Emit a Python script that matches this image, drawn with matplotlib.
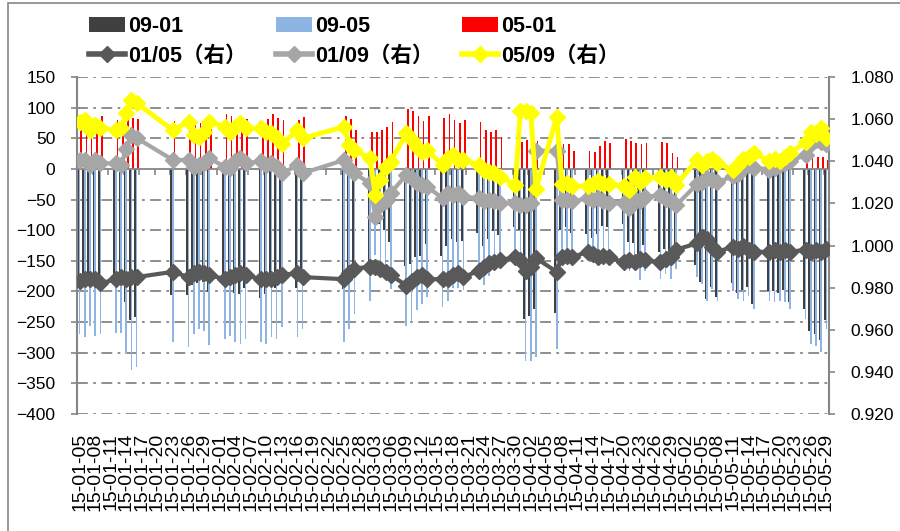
import numpy as np
import matplotlib
matplotlib.use("Agg")
import matplotlib.pyplot as plt
import matplotlib.dates as mdates
from matplotlib import font_manager
from matplotlib.patches import Patch, Rectangle
from matplotlib.lines import Line2D
from matplotlib.ticker import FormatStrFormatter

# trading days shown in the chart
dates = [
    "2015-01-05", "2015-01-06", "2015-01-07", "2015-01-08", "2015-01-09",
    "2015-01-12", "2015-01-13", "2015-01-14", "2015-01-15", "2015-01-16",
    "2015-01-23",
    "2015-01-26", "2015-01-27", "2015-01-28", "2015-01-29", "2015-01-30",
    "2015-02-02", "2015-02-03", "2015-02-04", "2015-02-05", "2015-02-06",
    "2015-02-09", "2015-02-10", "2015-02-11", "2015-02-12", "2015-02-13",
    "2015-02-16", "2015-02-17",
    "2015-02-25", "2015-02-26", "2015-02-27",
    "2015-03-02", "2015-03-03", "2015-03-04", "2015-03-05", "2015-03-06",
    "2015-03-09", "2015-03-10", "2015-03-11", "2015-03-12", "2015-03-13",
    "2015-03-16", "2015-03-17", "2015-03-18", "2015-03-19", "2015-03-20",
    "2015-03-23", "2015-03-24", "2015-03-25", "2015-03-26", "2015-03-27",
    "2015-03-30", "2015-03-31", "2015-04-01", "2015-04-02", "2015-04-03",
    "2015-04-07", "2015-04-08", "2015-04-09", "2015-04-10",
    "2015-04-13", "2015-04-14", "2015-04-15", "2015-04-16", "2015-04-17",
    "2015-04-20", "2015-04-21", "2015-04-22", "2015-04-23", "2015-04-24",
    "2015-04-27", "2015-04-28", "2015-04-29", "2015-04-30",
    "2015-05-04", "2015-05-05", "2015-05-06", "2015-05-07", "2015-05-08",
    "2015-05-11", "2015-05-12", "2015-05-13", "2015-05-14", "2015-05-15",
    "2015-05-18", "2015-05-19", "2015-05-20", "2015-05-21", "2015-05-22",
    "2015-05-25", "2015-05-26", "2015-05-27", "2015-05-28", "2015-05-29",
]

# spreads (left axis)
s0901 = [
    -185, -188, -177, -190, -182,
    -187, -183, -218, -246, -242,
    -205,
    -206, -189, -186, -184, -201,
    -188, -185, -203, -204, -195,
    -210, -204, -185, -194, -178,
    -195, -177,
    -196, -179, -173,
    -155, -80, -90, -100, -120,
    -158, -155, -144, -142, -123,
    -142, -126, -115, -120, -118,
    -104, -126, -115, -102, -108,
    -95, -100, -245, -240, -228,
    -235, -99, -95, -104,
    -106, -113, -106, -93, -94,
    -90, -120, -121, -141, -124,
    -136, -131, -154, -145,
    -157, -185, -213, -192, -209,
    -187, -202, -197, -192, -220,
    -200, -199, -203, -197, -218,
    -229, -264, -269, -279, -246,
]
s0905 = [
    -269, -275, -256, -272, -269,
    -267, -267, -302, -329, -324,
    -283,
    -291, -269, -261, -264, -288,
    -277, -272, -283, -286, -277,
    -283, -286, -275, -277, -258,
    -275, -261,
    -283, -261, -237,
    -215, -140, -154, -169, -196,
    -256, -250, -231, -220, -209,
    -225, -215, -195, -195, -198,
    -180, -190, -175, -165, -160,
    -139, -144, -313, -313, -307,
    -294, -139, -136, -133,
    -136, -141, -144, -139, -136,
    -139, -166, -163, -182, -166,
    -180, -171, -180, -163,
    -177, -188, -215, -196, -215,
    -199, -212, -215, -207, -228,
    -215, -217, -215, -217, -228,
    -245, -286, -289, -299, -261,
]
s0501 = [
    84, 87, 79, 82, 87,
    80, 84, 84, 83, 82,
    78,
    85, 80, 75, 80, 87,
    89, 87, 80, 82, 82,
    73, 82, 90, 83, 80,
    80, 84,
    87, 82, 64,
    60, 60, 64, 69, 76,
    98, 95, 87, 78, 86,
    83, 89, 80, 75, 80,
    76, 64, 60, 63, 52,
    45, 44, 47, 40, 45,
    42, 40, 41, 29,
    30, 28, 38, 46, 42,
    49, 46, 42, 41, 42,
    44, 42, 26, 20,
    20, 3, 2, 4, 6,
    12, 10, 18, 15, 8,
    15, 18, 12, 20, 10,
    16, 22, 20, 20, 15,
]

# price ratios (right axis)
r0105 = [
    0.983, 0.984, 0.984, 0.984, 0.982,
    0.984, 0.985, 0.984, 0.985, 0.985,
    0.9875,
    0.985, 0.987, 0.9875, 0.987, 0.986,
    0.984, 0.985, 0.986, 0.987, 0.986,
    0.984, 0.984, 0.984, 0.985, 0.986,
    0.987, 0.985,
    0.984, 0.987, 0.989,
    0.990, 0.990, 0.989, 0.9875, 0.986,
    0.981, 0.983, 0.985, 0.986, 0.984,
    0.984, 0.984, 0.986, 0.987, 0.985,
    0.988, 0.990, 0.9915, 0.992, 0.993,
    0.9945, 0.993, 0.988, 0.990, 0.994,
    0.9875, 0.9945, 0.995, 0.9945,
    0.997, 0.996, 0.9945, 0.995, 0.9945,
    0.992, 0.993, 0.992, 0.9935, 0.993,
    0.992, 0.9935, 0.9945, 0.998,
    1.001, 1.004, 1.003, 0.9995, 0.997,
    0.9995, 0.9985, 1.000, 0.998, 0.997,
    0.997, 0.998, 0.997, 0.998, 0.997,
    0.998, 0.997, 0.998, 0.997, 0.9985,
]
r0109 = [
    1.0406, 1.0406, 1.038, 1.0406, 1.039,
    1.039, 1.038, 1.046, 1.0525, 1.051,
    1.0406,
    1.0406, 1.0374, 1.038, 1.039, 1.0414,
    1.0374, 1.0367, 1.040, 1.0414, 1.039,
    1.040, 1.038, 1.039, 1.0374, 1.0343,
    1.038, 1.0343,
    1.0406, 1.0367, 1.0343,
    1.0295, 1.0137, 1.019, 1.021, 1.025,
    1.0335, 1.032, 1.0295, 1.0287, 1.028,
    1.0224, 1.0248, 1.024, 1.0248, 1.0232,
    1.0224, 1.021, 1.0216, 1.021, 1.020,
    1.020, 1.019, 1.019, 1.020, 1.045,
    1.045, 1.0216, 1.0216, 1.021,
    1.0224, 1.0216, 1.0224, 1.021, 1.020,
    1.020, 1.018, 1.022, 1.021, 1.023,
    1.024, 1.022, 1.021, 1.019,
    1.029, 1.030, 1.032, 1.031, 1.030,
    1.033, 1.034, 1.037, 1.038, 1.037,
    1.036, 1.037, 1.038, 1.039, 1.040,
    1.043, 1.048, 1.050, 1.049, 1.048,
]
r0509 = [
    1.0588, 1.0596, 1.0548, 1.0572, 1.0556,
    1.0548, 1.0556, 1.0628, 1.0691, 1.0675,
    1.0548,
    1.0588, 1.0525, 1.0517, 1.0541, 1.0588,
    1.0564, 1.0541, 1.0564, 1.058, 1.0556,
    1.0556, 1.0541, 1.0533, 1.0509, 1.048,
    1.0548, 1.0509,
    1.0564, 1.0477, 1.0453,
    1.0414, 1.024, 1.0311, 1.0374, 1.0398,
    1.0533, 1.0501, 1.0469, 1.0446, 1.0453,
    1.0382, 1.0414, 1.043, 1.0406, 1.0406,
    1.0382, 1.0358, 1.035, 1.0342, 1.0327,
    1.0287, 1.064, 1.064, 1.063, 1.027,
    1.061, 1.029, 1.0298, 1.0282,
    1.0282, 1.029, 1.0306, 1.029, 1.029,
    1.0282, 1.0265, 1.0327, 1.0303, 1.0319,
    1.0327, 1.0311, 1.0327, 1.0287,
    1.0405, 1.038, 1.040, 1.041, 1.039,
    1.036, 1.038, 1.041, 1.042, 1.044,
    1.040, 1.041, 1.040, 1.042, 1.044,
    1.049, 1.054, 1.053, 1.056, 1.051,
]

bar_labels = ["09-01", "09-05", "05-01"]
line_labels = ["01/05（右）", "01/09（右）", "05/09（右）"]

names = {f.name for f in font_manager.fontManager.ttflist}
narrow = "Liberation Sans Narrow" if "Liberation Sans Narrow" in names else "Liberation Sans"
plt.rcParams["font.family"] = ["Liberation Sans", "Noto Sans CJK SC"]

GRAY = "#868686"

fig = plt.figure(figsize=(9, 5.31), dpi=100)
ax = fig.add_axes([77 / 900, 1 - 414 / 531, (829 - 77) / 900, (414 - 77) / 531])
ax2 = ax.twinx()

x = mdates.datestr2num(dates)
w = 0.32
ax.bar(x - w, s0901, w, color="#404040", lw=0, zorder=2)
ax.bar(x, s0905, w, color="#8DB4E2", lw=0, zorder=2)
ax.bar(x + w, s0501, w, color="#FF0000", lw=0, zorder=2)

x0 = mdates.datestr2num("2015-01-05")
x1 = mdates.datestr2num("2015-05-29")
ax.set_xlim(x0 - 0.5, x1 + 0.5)
ax.set_ylim(-400, 150)
ax.set_yticks(np.arange(-400, 151, 50))
for v in np.arange(-400, 151, 50):
    if v != 0:
        ax.axhline(v, color=GRAY, lw=1.3, ls=(0, (6, 3, 1.5, 3)), zorder=1)

# zero line carries the category ticks, labels sit at the bottom
ax.spines["bottom"].set_position(("data", 0))
ax.spines["bottom"].set_color(GRAY)
ax.spines["bottom"].set_linewidth(1.3)
ax.spines["bottom"].set_zorder(3)
ax.spines["top"].set_visible(False)
ax.spines["right"].set_visible(False)
ax.spines["left"].set_color(GRAY)
ax.spines["left"].set_linewidth(1.5)
lab_x = np.arange(x0, x1 + 1, 3)
ax.set_xticks(lab_x - 0.5)
ax.tick_params(axis="x", length=4.5, color=GRAY, width=1.2, labelbottom=False)
ax.tick_params(axis="y", length=4.5, color=GRAY, width=1.2, pad=11, labelsize=12.5)

sec = ax.secondary_xaxis("bottom")
sec.set_xticks(lab_x, labels=[mdates.num2date(v).strftime("%y-%m-%d") for v in lab_x])
sec.tick_params(length=0, pad=13.5, labelsize=14, rotation=90)
sec.spines["bottom"].set_visible(False)

ax2.plot(x, r0105, color="#595959", lw=3, marker="D", ms=8, zorder=3)
ax2.plot(x, r0109, color="#A6A6A6", lw=3, marker="D", ms=8, zorder=4)
ax2.plot(x, r0509, color="#FFFF00", lw=3.5, marker="D", ms=8, zorder=5)
ax2.set_ylim(0.92, 1.08)
ax2.set_yticks(np.arange(0.92, 1.0801, 0.02))
ax2.yaxis.set_major_formatter(FormatStrFormatter("%.3f"))
ax2.tick_params(axis="y", length=4.5, color=GRAY, width=1.2, pad=11, labelsize=12.5)
for s in ("top", "bottom", "left"):
    ax2.spines[s].set_visible(False)
ax2.spines["right"].set_color(GRAY)
ax2.spines["right"].set_linewidth(1.5)

# legend: three columns, bar on top row, line below
bar_cols = ["#404040", "#8DB4E2", "#FF0000"]
line_cols = ["#595959", "#A6A6A6", "#FFFF00"]
col_x = [89 / 900, 276 / 900, 462 / 900]
prop = {"family": [narrow, "Noto Sans CJK SC"], "weight": "bold", "size": 15.5}
for j in range(3):
    hs = [Patch(facecolor=bar_cols[j], edgecolor="none"),
          Line2D([], [], color=line_cols[j], lw=4, marker="D", ms=8)]
    fig.legend(hs, [bar_labels[j], line_labels[j]], loc="upper left",
               bbox_to_anchor=(col_x[j], 1 - 16 / 531), frameon=False, prop=prop,
               handlelength=1.65, handletextpad=0.15, borderpad=0, borderaxespad=0,
               labelspacing=0.4)

fig.add_artist(Rectangle((8 / 900, -0.05), 1.2, 1.05 - 3 / 531, transform=fig.transFigure,
                         fill=False, ec=GRAY, lw=1.2))

fig.savefig("out.png", dpi=100)
